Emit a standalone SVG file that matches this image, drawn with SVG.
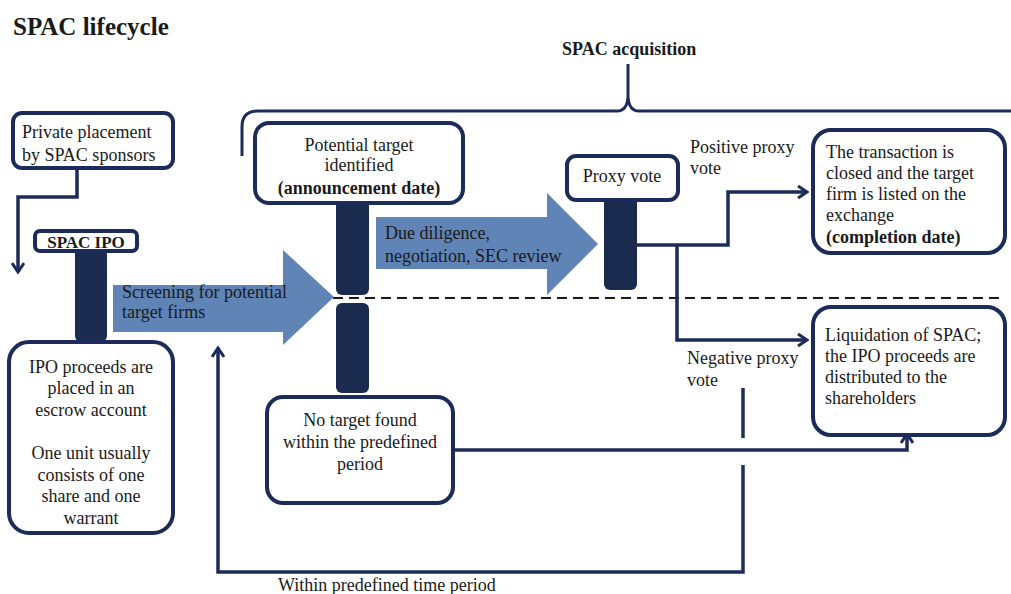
<svg xmlns="http://www.w3.org/2000/svg" width="1011" height="594" viewBox="0 0 1011 594" font-family="'Liberation Serif', 'Times New Roman', serif">
<style>
  text { font-family: "Liberation Serif", "Times New Roman", serif; font-size: 18px; fill: #1a1a1a; }
  .b { font-weight: bold; }
  .c { text-anchor: middle; }
  .box { fill: #ffffff; stroke: #1c2b5a; stroke-width: 4; }
  .bar { fill: #1b2a4f; }
  .big { fill: #5f84b5; }
  .conn { fill: none; stroke: #1c2b5a; stroke-width: 3.5; }
  .dash { fill: none; stroke: #1a1a1a; stroke-width: 2; stroke-dasharray: 10 6; }
</style>
<defs>
  <marker id="ah" viewBox="0 0 14 14" refX="12" refY="7" markerWidth="14" markerHeight="14" markerUnits="userSpaceOnUse" orient="auto">
    <path d="M3,1 L12,7 L3,13" fill="none" stroke="#1c2b5a" stroke-width="3"/>
  </marker>
</defs>
<rect width="1011" height="594" fill="#ffffff"/>

<text x="13" y="35" class="b" style="font-size:25px">SPAC lifecycle</text>
<text x="562" y="55" class="b" style="font-size:18px">SPAC acquisition</text>

<g id="brace">
  <path class="conn" style="stroke-width:3" d="M242,156 L242,127 Q242,111 258,111 L617,111 Q627,111 628,97 L628,64 L628,97 Q629,111 639,111 L1011,111"/>
</g>

<g id="dashed-divider">
  <path class="dash" d="M333,298 L1005,298"/>
</g>

<g id="screening-arrow">
  <path class="big" d="M113,285 L283,285 L283,250 L334,297 L283,345 L283,332 L113,332 Z"/>
  <text x="122" y="298">Screening for potential</text>
  <text x="122" y="318">target firms</text>
</g>

<g id="diligence-arrow">
  <path class="big" d="M376,217 L547,217 L547,193 L598,244 L547,295 L547,269 L376,269 Z"/>
  <text x="385" y="239">Due diligence,</text>
  <text x="385" y="262">negotiation,  SEC review</text>
</g>

<g id="connectors">
  <path class="conn" d="M77,168 V197 H18 V272" marker-end="url(#ah)"/>
  <path class="conn" d="M637,245 H728 V192 H807" marker-end="url(#ah)"/>
  <path class="conn" d="M677,245 V340 H807" marker-end="url(#ah)"/>
  <path class="conn" d="M453,450 H907 V434" marker-end="url(#ah)"/>
  <path class="conn" d="M743,388 V438"/>
  <path class="conn" d="M743,465 V572 H218 V348" marker-end="url(#ah)"/>
</g>

<g id="private-placement">
  <rect class="box" x="13" y="113" width="160" height="55" rx="9"/>
  <text x="22" y="138">Private placement</text>
  <text x="22" y="161">by  SPAC sponsors</text>
</g>

<g id="spac-ipo">
  <rect class="bar" x="75" y="248" width="32" height="94" rx="6"/>
  <rect class="box" x="35" y="231" width="102" height="20" rx="5"/>
  <text x="86" y="248" class="b c" style="font-size:17px">SPAC IPO</text>
</g>

<g id="ipo-proceeds">
  <rect class="box" x="9" y="342" width="164" height="191" rx="20"/>
  <text x="91" y="373" class="c">IPO proceeds are</text>
  <text x="91" y="394" class="c">placed in an</text>
  <text x="91" y="416" class="c">escrow account</text>
  <text x="91" y="459" class="c">One unit usually</text>
  <text x="91" y="481" class="c">consists of one</text>
  <text x="91" y="502" class="c">share and one</text>
  <text x="91" y="524" class="c">warrant</text>
</g>

<g id="potential-target">
  <rect class="bar" x="336" y="200" width="33" height="95" rx="6"/>
  <rect class="bar" x="336" y="303" width="33" height="90" rx="6"/>
  <rect class="box" x="255" y="123" width="208" height="80" rx="14"/>
  <text x="359" y="151" class="c">Potential target</text>
  <text x="359" y="171" class="c">identified</text>
  <text x="359" y="194" class="b c">(announcement date)</text>
</g>

<g id="no-target">
  <rect class="box" x="267" y="397" width="186" height="106" rx="16"/>
  <text x="360" y="426" class="c">No target found</text>
  <text x="360" y="448" class="c">within the predefined</text>
  <text x="360" y="470" class="c">period</text>
</g>

<g id="proxy-vote">
  <rect class="bar" x="604" y="196" width="33" height="94" rx="6"/>
  <rect class="box" x="567" y="156" width="111" height="44" rx="9"/>
  <text x="622" y="182" class="c">Proxy vote</text>
</g>

<g id="transaction-closed">
  <rect class="box" x="813" y="130" width="192" height="123" rx="18"/>
  <text x="826" y="158">The transaction is</text>
  <text x="826" y="179">closed and the target</text>
  <text x="826" y="200">firm is listed on the</text>
  <text x="826" y="221">exchange</text>
  <text x="826" y="243" class="b">(completion date)</text>
</g>

<g id="liquidation">
  <rect class="box" x="813" y="307" width="192" height="128" rx="18"/>
  <text x="825" y="341">Liquidation of SPAC;</text>
  <text x="825" y="362">the IPO proceeds are</text>
  <text x="825" y="383">distributed to the</text>
  <text x="825" y="404">shareholders</text>
</g>

<g id="labels">
  <text x="690" y="153">Positive proxy</text>
  <text x="690" y="174">vote</text>
  <text x="687" y="364">Negative proxy</text>
  <text x="687" y="386">vote</text>
  <text x="278" y="591">Within predefined time period</text>
</g>
</svg>
